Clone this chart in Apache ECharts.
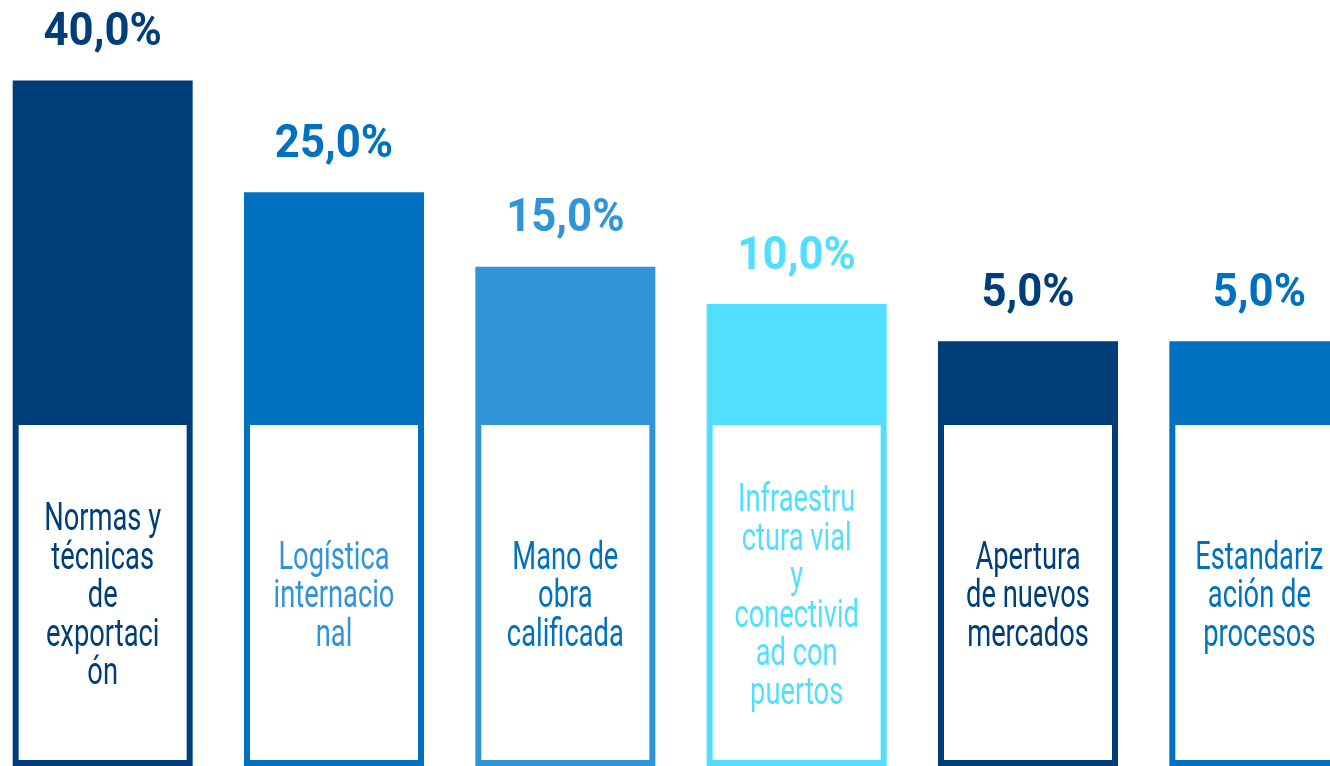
<!DOCTYPE html>
<html>
<head>
<meta charset="utf-8">
<title>Barras</title>
<script src="https://cdn.jsdelivr.net/npm/echarts@6/dist/echarts.min.js"></script>
<style>
  html, body { margin: 0; padding: 0; background: #fff; }
  #chart { width: 1330px; height: 766px; }
</style>
</head>
<body>
<div id="chart"></div>
<script>
// categories, as broken in the original boxes
const categories = [
  'Normas y\ntécnicas\nde\nexportaci\nón',
  'Logística\ninternacio\nnal',
  'Mano de\nobra\ncalificada',
  'Infraestru\nctura vial\ny\nconectivid\nad con\npuertos',
  'Apertura\nde nuevos\nmercados',
  'Estandariz\nación de\nprocesos'
]
const values = [40, 25, 15, 10, 5, 5]

const navy = '#003E7A'
const blue = '#0070C0'
const mid = '#3294D8'
const cyan = '#52DFFF'
const barColors = [navy, blue, mid, cyan, navy, blue]
const valueColors = [navy, blue, mid, cyan, navy, blue]
const labelColors = [navy, mid, blue, cyan, navy, blue]

// no condensed face installed, so Roboto gets squeezed horizontally
const FONT = "Roboto, sans-serif"
const BAR_W = 180
const BOX_TOP = 425
const BORDER = 6

function fmt (v) {
  return v.toFixed(1).replace('.', ',') + '%'
}

const chart = echarts.init(document.getElementById('chart'))

const option = {
  animation: false,
  backgroundColor: '#fff',
  grid: {
    left: -13,
    right: -45,
    top: 6,
    bottom: 0,
    containLabel: false,
    outerBoundsMode: 'none'
  },
  xAxis: { type: 'category', data: categories, show: false },
  yAxis: { type: 'value', min: -52, max: 50, show: false },
  series: [{
    type: 'custom',
    clip: false,
    data: values.map((v, i) => [i, v]),
    renderItem (params, api) {
      const i = api.value(0)
      const v = api.value(1)
      const top = api.coord([i, v])
      const cs = params.coordSys
      const bottom = cs.y + cs.height
      const cx = top[0]
      const x = cx - BAR_W / 2
      return {
        type: 'group',
        children: [
          {
            type: 'rect',
            shape: { x: x, y: top[1], width: BAR_W, height: bottom - top[1] },
            style: { fill: barColors[i] }
          },
          {
            type: 'rect',
            shape: { x: x + BORDER, y: BOX_TOP, width: BAR_W - BORDER * 2, height: bottom - BORDER - BOX_TOP },
            style: { fill: '#fff' }
          },
          {
            type: 'text',
            x: cx,
            y: (BOX_TOP + bottom) / 2 + 2,
            scaleX: 0.70,
            style: {
              text: categories[i],
              x: 0,
              y: 0,
              align: 'center',
              verticalAlign: 'middle',
              fill: labelColors[i],
              fontFamily: FONT,
              fontSize: 39,
              lineHeight: 38.5
            }
          },
          {
            type: 'text',
            x: cx,
            y: top[1] - 47,
            scaleX: 0.95,
            style: {
              text: fmt(v),
              x: 0,
              y: 0,
              align: 'center',
              verticalAlign: 'middle',
              fill: valueColors[i],
              fontFamily: FONT,
              fontWeight: 'bold',
              fontSize: 46
            }
          }
        ]
      }
    }
  }]
}

chart.setOption(option)
window.addEventListener('resize', () => {
  chart.resize()
})
</script>
</body>
</html>
